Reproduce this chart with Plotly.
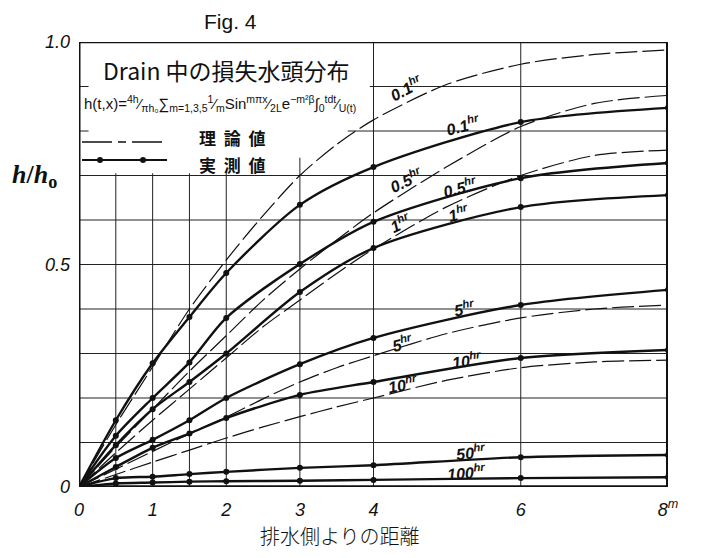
import plotly.graph_objects as go

# ---------------- data ----------------
x_meas = [0, 0.5, 1, 1.5, 2, 3, 4, 6, 8]
meas_01 = [0, 0.15, 0.278, 0.382, 0.481, 0.634, 0.719, 0.82, 0.852]
meas_05 = [0, 0.115, 0.20, 0.28, 0.38, 0.501, 0.596, 0.694, 0.728]
meas_1 = [0, 0.094, 0.175, 0.236, 0.30, 0.438, 0.537, 0.629, 0.656]
meas_5 = [0, 0.065, 0.106, 0.15, 0.20, 0.276, 0.335, 0.409, 0.443]
meas_10 = [0, 0.045, 0.088, 0.12, 0.155, 0.207, 0.236, 0.29, 0.308]
meas_50 = [0, 0.02, 0.023, 0.029, 0.034, 0.043, 0.049, 0.067, 0.072]
meas_100 = [0, 0.008, 0.010, 0.012, 0.013, 0.014, 0.016, 0.020, 0.022]

x_theo = [0, 0.5, 1, 1.5, 2, 2.5, 3, 3.5, 4, 5, 6, 7, 8]
theo_01 = [0, 0.14, 0.27, 0.40, 0.51, 0.61, 0.70, 0.77, 0.825, 0.905, 0.95, 0.972, 0.982]
theo_05 = [0, 0.09, 0.175, 0.26, 0.34, 0.42, 0.49, 0.555, 0.616, 0.72, 0.81, 0.862, 0.88]
theo_1 = [0, 0.077, 0.15, 0.22, 0.29, 0.36, 0.42, 0.48, 0.535, 0.63, 0.70, 0.745, 0.757]
theo_5 = [0, 0.04, 0.08, 0.12, 0.157, 0.198, 0.236, 0.268, 0.295, 0.345, 0.38, 0.40, 0.409]
theo_10 = [0, 0.028, 0.056, 0.083, 0.11, 0.135, 0.158, 0.18, 0.20, 0.24, 0.268, 0.281, 0.285]

x_ticks = [0, 1, 2, 3, 4, 6, 8]
x_ticktext = ["0", "1", "2", "3", "4", "6", "8<sup>m</sup>"]
y_ticks = [0, 0.5, 1.0]
y_ticktext = ["0", "0.5", "1.0"]

measured = [meas_01, meas_05, meas_1, meas_5, meas_10, meas_50, meas_100]
theoretical = [theo_01, theo_05, theo_1, theo_5, theo_10]

# curve labels: (text, x, y, angle)
curve_labels = [
    ("0.1<sup>hr</sup>", 4.44, 0.897, -28),
    ("0.1<sup>hr</sup>", 5.22, 0.813, -14),
    ("0.5<sup>hr</sup>", 4.44, 0.690, -25),
    ("0.5<sup>hr</sup>", 5.18, 0.674, -14),
    ("1<sup>hr</sup>", 4.36, 0.593, -25),
    ("1<sup>hr</sup>", 5.15, 0.616, -14),
    ("5<sup>hr</sup>", 5.24, 0.402, -10),
    ("5<sup>hr</sup>", 4.39, 0.324, -14),
    ("10<sup>hr</sup>", 5.27, 0.285, -8),
    ("10<sup>hr</sup>", 4.40, 0.231, -10),
    ("50<sup>hr</sup>", 5.33, 0.079, -6),
    ("100<sup>hr</sup>", 5.26, 0.034, -4),
]

INK = "#111111"
NUMFONT = dict(family="Liberation Sans", size=18, color=INK, style="italic")
JPFONT = "Noto Sans CJK JP"

# page body has an 8px margin; plot area spans screen px 79..668 (x) and 42..487 (y)
W, H = 685, 542
ML, MR, MT, MB = 71, 25, 34, 63
PW, PH = W - ML - MR, H - MT - MB


def px(sx):
    return (sx - 8 - ML) / PW


def py(sy):
    return (H - MB - (sy - 8)) / PH


fig = go.Figure()

for i, yv in enumerate(theoretical):
    fig.add_trace(go.Scatter(
        x=x_theo, y=yv, mode="lines",
        line=dict(color=INK, width=1.2, dash="22px,5px", shape="spline", smoothing=0.8),
        name="理論値", showlegend=False, hoverinfo="skip"))

for i, yv in enumerate(measured):
    fig.add_trace(go.Scatter(
        x=x_meas, y=yv, mode="lines+markers",
        line=dict(color=INK, width=2.4, shape="spline", smoothing=0.8),
        marker=dict(color=INK, size=6),
        name="実測値", showlegend=False, hoverinfo="skip"))

# ---- grid lines (partial, as drawn) ----
shapes = []
gl = dict(color="#222222", width=1)
for yv in [0.1, 0.2, 0.3, 0.4, 0.5, 0.6, 0.7]:
    shapes.append(dict(type="line", xref="x", yref="y", x0=0, x1=8, y0=yv, y1=yv, line=gl, layer="below"))
shapes.append(dict(type="line", xref="x", yref="y", x0=3.65, x1=8, y0=0.8, y1=0.8, line=gl, layer="below"))
shapes.append(dict(type="line", xref="x", yref="y", x0=3.95, x1=8, y0=0.9, y1=0.9, line=gl, layer="below"))
for yv in [0.8, 0.9]:
    shapes.append(dict(type="line", xref="x", yref="y", x0=0, x1=0.13, y0=yv, y1=yv, line=gl, layer="below"))
for xv in [0.5, 1, 1.5, 2]:
    shapes.append(dict(type="line", xref="x", yref="y", x0=xv, x1=xv, y0=0, y1=0.705, line=gl, layer="below"))
shapes.append(dict(type="line", xref="x", yref="y", x0=3, x1=3, y0=0, y1=0.74, line=gl, layer="below"))
for xv in [4, 6]:
    shapes.append(dict(type="line", xref="x", yref="y", x0=xv, x1=xv, y0=0, y1=1, line=gl, layer="below"))
# frame
shapes.append(dict(type="line", xref="x", yref="y", x0=0, x1=0, y0=0, y1=1, line=dict(color=INK, width=3)))
shapes.append(dict(type="line", xref="x", yref="y", x0=0, x1=8, y0=0, y1=0, line=dict(color=INK, width=3.5)))
shapes.append(dict(type="line", xref="x", yref="y", x0=0, x1=8, y0=1, y1=1, line=dict(color=INK, width=2.5)))
shapes.append(dict(type="line", xref="x", yref="y", x0=8, x1=8, y0=0, y1=1, line=dict(color=INK, width=4)))

# ---- hand-drawn legend keys ----
shapes.append(dict(type="line", xref="paper", yref="paper", x0=px(82), x1=px(167), y0=py(142), y1=py(142),
                   line=dict(color=INK, width=1.3, dash="30px,6px,8px,6px")))
shapes.append(dict(type="line", xref="paper", yref="paper", x0=px(82), x1=px(167), y0=py(160), y1=py(160),
                   line=dict(color=INK, width=2.2)))
for cx in [100, 143]:
    shapes.append(dict(type="circle", xref="paper", yref="paper", x0=px(cx - 3), x1=px(cx + 3),
                       y0=py(160 + 3), y1=py(160 - 3), fillcolor=INK, line=dict(color=INK, width=0)))

ann = []
for t, ax_, ay_, ang in curve_labels:
    ann.append(dict(text=t, x=ax_, y=ay_, xref="x", yref="y", showarrow=False, textangle=ang,
                    xanchor="center", yanchor="middle",
                    font=dict(family="Liberation Sans", size=16, color=INK, style="italic", weight="bold")))


def note(text, sx, sy, font, xanchor="center", yanchor="middle"):
    ann.append(dict(text=text, xref="paper", yref="paper", x=px(sx), y=py(sy), xanchor=xanchor,
                    yanchor=yanchor, showarrow=False, font=font))


note("Fig. 4", 230, 8, dict(family="Liberation Sans", size=21, color=INK), yanchor="top")
note("Drain 中の損失水頭分布", 226, 70, dict(family=JPFONT, size=23, color=INK))
formula = ("h(t,x)=<sup>4h</sup>⁄<sub>πh₀</sub>∑<sub>m=1,3,5</sub><sup>1</sup>⁄<sub>m</sub>Sin"
           "<sup>mπx</sup>⁄<sub>2L</sub>e<sup>−m²β</sup>∫<sub>0</sub><sup>t</sup><sup>dt</sup>⁄<sub>U(t)</sub>")
note(formula, 82, 104, dict(family="Liberation Sans", size=15, color=INK), xanchor="left")
note("理\u00a0\u00a0論\u00a0\u00a0値", 232, 138, dict(family=JPFONT, size=17, color=INK, weight="bold"))
note("実\u00a0\u00a0測\u00a0\u00a0値", 232, 164, dict(family=JPFONT, size=17, color=INK, weight="bold"))
note("<i>h</i>/<i>h</i><sub>o</sub>", 34, 176, dict(family="Liberation Serif", size=26, color=INK, weight="bold"))
note("排水側よりの距離", 340, 535, dict(family=JPFONT, size=20, color=INK, weight=300))

fig.update_layout(
    width=W, height=H,
    margin=dict(l=ML, r=MR, t=MT, b=MB),
    paper_bgcolor="white", plot_bgcolor="white",
    xaxis=dict(range=[0, 8], showgrid=False, zeroline=False, showline=False,
               tickmode="array", tickvals=x_ticks, ticktext=x_ticktext, ticks="",
               tickfont=NUMFONT, ticklabelstandoff=10, fixedrange=True),
    yaxis=dict(range=[0, 1], showgrid=False, zeroline=False, showline=False,
               tickmode="array", tickvals=y_ticks, ticktext=y_ticktext, ticks="",
               tickfont=NUMFONT, ticklabelstandoff=8, fixedrange=True),
    shapes=shapes, annotations=ann,
    showlegend=False,
)

fig.write_html("out.html")
